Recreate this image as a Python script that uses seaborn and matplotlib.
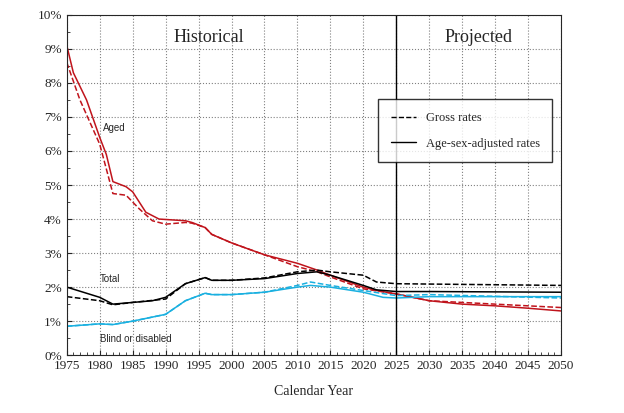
import matplotlib
matplotlib.use('Agg')
import matplotlib.pyplot as plt
import seaborn as sns
import pandas as pd
from matplotlib.ticker import MultipleLocator, PercentFormatter
from matplotlib.lines import Line2D

sns.set_style('ticks')
plt.rcParams['font.family'] = ['Liberation Serif']

series = {
    ('Aged', 'adj'): ([1975, 1976, 1978, 1980, 1981, 1982, 1984, 1985, 1987, 1989, 1993, 1994, 1996, 1997, 2000, 2005, 2010, 2013, 2015, 2020, 2022, 2025, 2030, 2035, 2040, 2045, 2050],
                      [9.1, 8.3, 7.5, 6.4, 5.9, 5.1, 4.95, 4.8, 4.2, 4.0, 3.95, 3.9, 3.75, 3.55, 3.3, 2.95, 2.7, 2.5, 2.35, 2.0, 1.9, 1.8, 1.6, 1.5, 1.45, 1.38, 1.3]),
    ('Aged', 'gross'): ([1975, 1977, 1980, 1982, 1984, 1986, 1988, 1990, 1993, 1994, 1996, 1997, 2000, 2005, 2010, 2013, 2015, 2020, 2025, 2030, 2035, 2040, 2050],
                        [8.6, 7.5, 6.2, 4.75, 4.7, 4.3, 3.95, 3.85, 3.9, 3.88, 3.75, 3.55, 3.3, 2.95, 2.6, 2.45, 2.3, 1.95, 1.8, 1.6, 1.55, 1.5, 1.4]),
    ('Total', 'adj'): ([1975, 1980, 1982, 1985, 1988, 1990, 1993, 1996, 1997, 2000, 2005, 2010, 2013, 2015, 2020, 2022, 2025, 2030, 2050],
                       [2.0, 1.7, 1.5, 1.55, 1.6, 1.7, 2.1, 2.28, 2.2, 2.2, 2.25, 2.4, 2.45, 2.35, 2.05, 1.92, 1.87, 1.87, 1.85]),
    ('Total', 'gross'): ([1975, 1980, 1982, 1985, 1990, 1993, 1996, 1997, 2000, 2005, 2010, 2013, 2015, 2020, 2022, 2025, 2050],
                         [1.72, 1.6, 1.48, 1.55, 1.65, 2.1, 2.28, 2.2, 2.2, 2.27, 2.45, 2.5, 2.45, 2.35, 2.15, 2.1, 2.05]),
    ('Blind', 'adj'): ([1975, 1980, 1982, 1985, 1990, 1993, 1996, 1997, 2000, 2005, 2010, 2012, 2015, 2020, 2023, 2025, 2030, 2050],
                       [0.85, 0.92, 0.9, 1.0, 1.2, 1.6, 1.82, 1.78, 1.78, 1.85, 2.0, 2.05, 2.0, 1.85, 1.7, 1.68, 1.72, 1.72]),
    ('Blind', 'gross'): ([1975, 1980, 1982, 1985, 1990, 1993, 1996, 1997, 2000, 2005, 2010, 2012, 2015, 2020, 2025, 2030, 2050],
                         [0.85, 0.92, 0.9, 1.0, 1.2, 1.6, 1.82, 1.78, 1.78, 1.85, 2.05, 2.15, 2.05, 1.9, 1.75, 1.78, 1.68]),
}
colors = {'Aged': '#c0141c', 'Total': 'black', 'Blind': '#1ab0e0'}

fig, ax = plt.subplots(figsize=(6.24, 4.13), dpi=100)
for (grp, kind), (yrs, vals) in series.items():
    df = pd.DataFrame({'year': yrs, 'rate': vals})
    sns.lineplot(data=df, x='year', y='rate', ax=ax, color=colors[grp], lw=1.1,
                 linestyle='--' if kind == 'gross' else '-')

ax.axvline(2025, color='black', lw=1)
ax.set_xlim(1975, 2050)
ax.set_ylim(0, 10)
ax.xaxis.set_major_locator(MultipleLocator(5))
ax.xaxis.set_minor_locator(MultipleLocator(1))
ax.yaxis.set_major_locator(MultipleLocator(1))
ax.yaxis.set_minor_locator(MultipleLocator(0.5))
ax.yaxis.set_major_formatter(PercentFormatter(decimals=0))
ax.grid(True, which='major', ls=':', color='gray', lw=0.8)
ax.tick_params(which='both', direction='in', labelsize=9.5)
ax.set_xlabel('Calendar Year', fontsize=10, labelpad=9)
ax.set_ylabel('')

ax.text(1996.5, 9.2, 'Historical', fontsize=13, ha='center')
ax.text(2037.5, 9.2, 'Projected', fontsize=13, ha='center')
sans = ['Liberation Sans', 'DejaVu Sans']
ax.text(1980.5, 6.6, 'Aged', fontsize=7, family=sans)
ax.text(1980.0, 2.15, 'Total', fontsize=7, family=sans)
ax.text(1980.0, 0.4, 'Blind or disabled', fontsize=7, family=sans)

handles = [Line2D([], [], color='black', ls='--', lw=1), Line2D([], [], color='black', lw=1)]
ax.legend(handles, ['Gross rates', 'Age-sex-adjusted rates'], loc='upper right',
          bbox_to_anchor=(0.995, 0.77), fancybox=False, edgecolor='black', fontsize=9,
          borderpad=1.0, labelspacing=1.1)

fig.subplots_adjust(left=0.107, right=0.899, top=0.964, bottom=0.14)
fig.savefig('out.png', dpi=100)
